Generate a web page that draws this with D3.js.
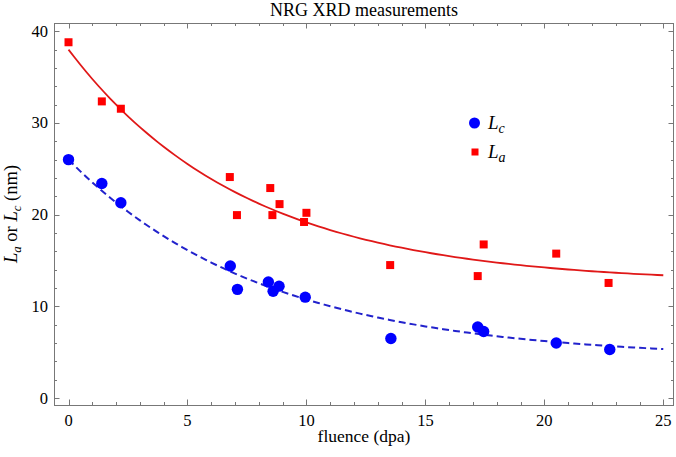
<!DOCTYPE html>
<html>
<head>
<meta charset="utf-8">
<script src="https://cdnjs.cloudflare.com/ajax/libs/d3/7.8.5/d3.min.js"></script>
<style>
  body { margin: 0; background: #fff; }
  svg text { font-family: "Liberation Serif", "DejaVu Serif", serif; fill: #000; }
</style>
</head>
<body>
<div id="chart"></div>
<script>
// measured points, fluence (dpa) vs crystallite size (nm)
var lcFluence = [0, 1.4, 2.2, 6.8, 7.1, 8.4, 8.6, 8.85, 9.95, 13.55, 17.2, 17.45, 20.5, 22.75];
var lcSize    = [26.0, 23.4, 21.3, 14.4, 11.85, 12.65, 11.65, 12.2, 11.0, 6.5, 7.75, 7.25, 6.0, 5.3];

var laFluence = [0, 1.4, 2.2, 6.78, 7.08, 8.48, 8.57, 8.87, 9.9, 10.0, 13.52, 17.2, 17.45, 20.5, 22.7];
var laSize    = [38.8, 32.35, 31.55, 24.1, 19.95, 22.9, 19.95, 21.15, 19.2, 20.2, 14.5, 13.3, 16.75, 15.75, 12.55];

// exponential fits y = a + b*exp(-k*x)
var laFit = {a: 12.5, b: 25.5, k: 0.1343};
var lcFit = {a: 4.3, b: 21.7, k: 0.1214};

var xMajor = [0, 5, 10, 15, 20, 25];
var yMajor = [0, 10, 20, 30, 40];

(function() {
  var W = 676, H = 457;
  var pl = 54, pr = 674, pt = 23, pb = 405;

  var x = d3.scaleLinear().domain([-0.61, 25.45]).range([pl, pr]);
  var y = d3.scaleLinear().domain([-0.76, 40.9]).range([pb, pt]);

  var svg = d3.select("#chart").append("svg")
      .attr("width", W)
      .attr("height", H);

  var frameColor = "#777";

  // minor ticks
  var xMinor = d3.range(0, 26, 1).filter(function(v) { return xMajor.indexOf(v) < 0; });
  var yMinor = d3.range(0, 41, 2).filter(function(v) { return yMajor.indexOf(v) < 0; });

  var ticks = svg.append("g").attr("stroke", frameColor).attr("stroke-width", 1);

  function tickSetX(vals, len) {
    vals.forEach(function(v) {
      var px = Math.round(x(v)) + 0.5;
      ticks.append("line").attr("x1", px).attr("x2", px).attr("y1", pb).attr("y2", pb - len);
      ticks.append("line").attr("x1", px).attr("x2", px).attr("y1", pt).attr("y2", pt + len);
    });
  }
  function tickSetY(vals, len) {
    vals.forEach(function(v) {
      var py = Math.round(y(v)) + 0.5;
      ticks.append("line").attr("y1", py).attr("y2", py).attr("x1", pl).attr("x2", pl + len);
      ticks.append("line").attr("y1", py).attr("y2", py).attr("x1", pr).attr("x2", pr - len);
    });
  }
  tickSetX(xMajor, 5.5);
  tickSetX(xMinor, 3);
  tickSetY(yMajor, 5.5);
  tickSetY(yMinor, 3);

  svg.append("rect")
      .attr("x", pl + 0.5).attr("y", pt + 0.5)
      .attr("width", pr - pl - 1).attr("height", pb - pt)
      .attr("fill", "none").attr("stroke", frameColor).attr("stroke-width", 1);

  // tick labels
  svg.append("g").selectAll("text")
      .data(xMajor)
    .enter().append("text")
      .attr("x", function(d) { return x(d); })
      .attr("y", 426)
      .attr("text-anchor", "middle")
      .style("font-size", "16.5px")
      .text(function(d) { return d; });

  svg.append("g").selectAll("text")
      .data(yMajor)
    .enter().append("text")
      .attr("x", 48)
      .attr("y", function(d) { return y(d) + 5.5; })
      .attr("text-anchor", "end")
      .style("font-size", "16.5px")
      .text(function(d) { return d; });

  // titles
  svg.append("text")
      .attr("x", (pl + pr) / 2)
      .attr("y", 16)
      .attr("text-anchor", "middle")
      .style("font-size", "18px")
      .text("NRG XRD measurements");

  svg.append("text")
      .attr("x", (pl + pr) / 2)
      .attr("y", 442)
      .attr("text-anchor", "middle")
      .style("font-size", "17.5px")
      .text("fluence (dpa)");

  var yl = svg.append("text")
      .attr("transform", "translate(17," + ((pt + pb) / 2) + ") rotate(-90)")
      .attr("text-anchor", "middle")
      .style("font-size", "18.5px");
  yl.append("tspan").style("font-style", "italic").text("L");
  yl.append("tspan").style("font-style", "italic").style("font-size", "13px").attr("dy", 4).text("a");
  yl.append("tspan").attr("dy", -4).text(" or ");
  yl.append("tspan").style("font-style", "italic").text("L");
  yl.append("tspan").style("font-style", "italic").style("font-size", "13px").attr("dy", 4).text("c");
  yl.append("tspan").attr("dy", -4).text(" (nm)");

  // fit curves
  var fitX = d3.range(0, 25.001, 0.25);
  var line = d3.line()
      .x(function(d) { return x(d[0]); })
      .y(function(d) { return y(d[1]); });

  function fitPts(f) {
    return fitX.map(function(v) { return [v, f.a + f.b * Math.exp(-f.k * v)]; });
  }

  svg.append("path")
      .attr("d", line(fitPts(laFit)))
      .attr("fill", "none")
      .attr("stroke", "#e01818")
      .attr("stroke-width", 1.8);

  svg.append("path")
      .attr("d", line(fitPts(lcFit)))
      .attr("fill", "none")
      .attr("stroke", "#2222cc")
      .attr("stroke-width", 2)
      .attr("stroke-dasharray", "7,4");

  // points
  var laData = d3.zip(laFluence, laSize);
  var lcData = d3.zip(lcFluence, lcSize);

  svg.append("g").selectAll("rect")
      .data(laData)
    .enter().append("rect")
      .attr("x", function(d) { return x(d[0]) - 4; })
      .attr("y", function(d) { return y(d[1]) - 4; })
      .attr("width", 8)
      .attr("height", 8)
      .attr("fill", "#ff0000");

  svg.append("g").selectAll("circle")
      .data(lcData)
    .enter().append("circle")
      .attr("cx", function(d) { return x(d[0]); })
      .attr("cy", function(d) { return y(d[1]); })
      .attr("r", 5.7)
      .attr("fill", "#0000ff");

  // legend
  var legend = svg.append("g");
  legend.append("circle").attr("cx", 474.5).attr("cy", 123).attr("r", 5.5).attr("fill", "#0000ff");
  legend.append("rect").attr("x", 471.5).attr("y", 148.5).attr("width", 7).attr("height", 7).attr("fill", "#ff0000");

  function legendLabel(ty, sub) {
    var t = legend.append("text").attr("x", 488).attr("y", ty).style("font-size", "19px").style("font-style", "italic");
    t.append("tspan").text("L");
    t.append("tspan").attr("dy", 4).style("font-size", "14px").text(sub);
  }
  legendLabel(129, "c");
  legendLabel(158, "a");
})();
</script>
</body>
</html>
